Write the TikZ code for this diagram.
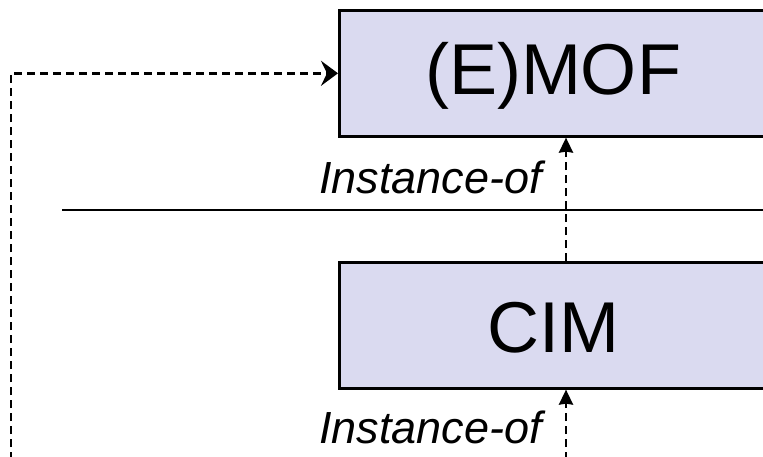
\documentclass[tikz,border=0pt]{standalone}
\usepackage{fontspec}
\setmainfont{Liberation Sans}
\usetikzlibrary{arrows.meta}
\definecolor{boxfill}{RGB}{218,218,240}
\tikzset{
  x=1pt, y=1pt,
  levelbox/.style={draw=black, line width=2.6pt, fill=boxfill, rectangle, inner sep=0pt,
    minimum width=500pt, minimum height=126pt, anchor=north west},
  bigtext/.style={font=\fontsize{72}{72}\selectfont, inner sep=0pt},
  lbl/.style={font=\fontsize{45}{45}\selectfont\itshape, inner sep=0pt, anchor=base east},
  dep/.style={line width=2.5pt, dash pattern=on 8pt off 5pt},
  bigtip/.style={-{Stealth[length=17pt,width=25pt,inset=6pt]}},
  smalltip/.style={-{Stealth[length=15pt,width=14pt,inset=1pt]}},
}
\begin{document}
\begin{tikzpicture}
\clip (0,0) rectangle (763,-456);
\node[levelbox] (mof) at (338,-9) {};
\node[levelbox] (cim) at (338,-261) {};
\node[bigtext] (moftext) at (553,-76) {(E)MOF};
\node[bigtext] (cimtext) at (553,-328) {CIM};
\node[lbl] (lbl1) at (542,-193) {Instance-of};
\node[lbl] (lbl2) at (542,-443) {Instance-of};
\coordinate (sepL) at (62,-210);
\coordinate (sepR) at (770,-210);
\draw[line width=2.6pt] (sepL) -- (sepR);
\coordinate (ax) at (566,0);
\coordinate (bot) at (566,-460);
\coordinate (leftbot) at (11,-460);
\draw[dep, smalltip] (cim.north -| ax) -- (mof.south -| ax);
\draw[dep, smalltip] (bot) -- (cim.south -| ax);
\draw[dep, bigtip] (leftbot) |- (mof.west);
\end{tikzpicture}
\end{document}
